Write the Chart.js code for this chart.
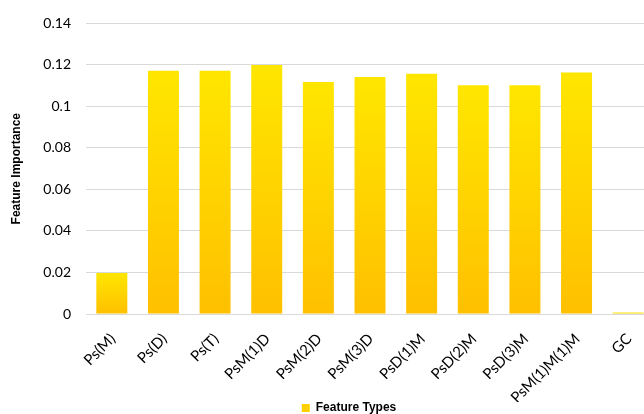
<!DOCTYPE html>
<html>
<head>
<meta charset="utf-8">
<script src="https://cdn.jsdelivr.net/npm/chart.js@4/dist/chart.umd.min.js"></script>
<style>
  html, body { margin: 0; padding: 0; background: #fff; overflow: hidden; }
  #wrap { width: 698px; height: 414px; position: relative; }
</style>
</head>
<body>
<div id="wrap"><canvas id="c"></canvas></div>
<script>
// Feature categories and their importance scores
const featureTypes = ['Ps(M)', 'Ps(D)', 'Ps(T)', 'PsM(1)D', 'PsM(2)D', 'PsM(3)D',
                      'PsD(1)M', 'PsD(2)M', 'PsD(3)M', 'PsM(1)M(1)M', 'GC'];
const importance = [0.0197, 0.1172, 0.1172, 0.1200, 0.1118, 0.1142,
                    0.1157, 0.1102, 0.1102, 0.1164, 0.0007];
const yTicks = [0, 0.02, 0.04, 0.06, 0.08, 0.1, 0.12, 0.14];

const tickFont = { family: 'Lato, "Open Sans", sans-serif', size: 15 };

// Each bar fades from bright yellow at its top to amber at its base
function barGradient(ctx) {
  const chart = ctx.chart;
  if (!chart.chartArea || ctx.type !== 'data') return '#FFD200';
  const y = chart.scales.y;
  const top = y.getPixelForValue(ctx.raw);
  const base = y.getPixelForValue(0);
  if (base - top < 1) return '#FFE600';
  const g = chart.ctx.createLinearGradient(0, top, 0, base);
  g.addColorStop(0, '#FFE600');
  g.addColorStop(1, '#FFC000');
  return g;
}

new Chart(document.getElementById('c'), {
  type: 'bar',
  data: {
    labels: featureTypes,
    datasets: [{
      label: 'Feature Types',
      data: importance,
      backgroundColor: barGradient,
      borderWidth: 0,
      categoryPercentage: 1,
      barPercentage: 0.6
    }]
  },
  options: {
    responsive: true,
    maintainAspectRatio: false,
    animation: false,
    layout: { padding: { top: 9, right: 0, bottom: -10, left: 0 } },
    plugins: {
      tooltip: { enabled: false },
      legend: {
        position: 'bottom',
        labels: {
          generateLabels: () => [{
            text: 'Feature Types',
            fillStyle: '#FFD000',
            strokeStyle: 'rgba(0,0,0,0)',
            lineWidth: 0,
            hidden: false,
            datasetIndex: 0
          }],
          boxWidth: 8,
          boxHeight: 8,
          padding: 0,
          color: '#000',
          font: { family: '"Liberation Sans", Arial, sans-serif', size: 12, weight: 'bold' }
        }
      }
    },
    scales: {
      x: {
        grid: { display: false },
        border: { display: false },
        ticks: {
          color: '#000',
          font: tickFont,
          minRotation: 45,
          maxRotation: 45,
          autoSkip: false,
          padding: 8,
          labelOffset: 1
        },
        afterFit: (s) => { s.height = 88; }
      },
      y: {
        min: 0,
        max: 0.14,
        afterBuildTicks: (s) => { s.ticks = yTicks.map(v => ({ value: v })); },
        afterFit: (s) => { s.width = 86; },
        grid: { color: '#d9d9d9', lineWidth: 1, drawTicks: false },
        border: { display: false },
        ticks: {
          color: '#000',
          font: { family: 'Lato, "Open Sans", sans-serif', size: 14 },
          padding: 15,
          callback: (v) => String(Math.round(v * 100) / 100)
        },
        title: {
          display: true,
          text: 'Feature Importance',
          color: '#000',
          font: { family: '"Liberation Sans", Arial, sans-serif', size: 12, weight: 'bold' },
          padding: { top: 9, bottom: 0 }
        }
      },
      // empty right-hand margin axis
      yRight: {
        position: 'right',
        min: 0,
        max: 0.14,
        grid: { display: false, drawOnChartArea: false },
        border: { display: false },
        ticks: { display: false },
        afterFit: (s) => { s.width = 44; }
      }
    }
  }
});
</script>
</body>
</html>
